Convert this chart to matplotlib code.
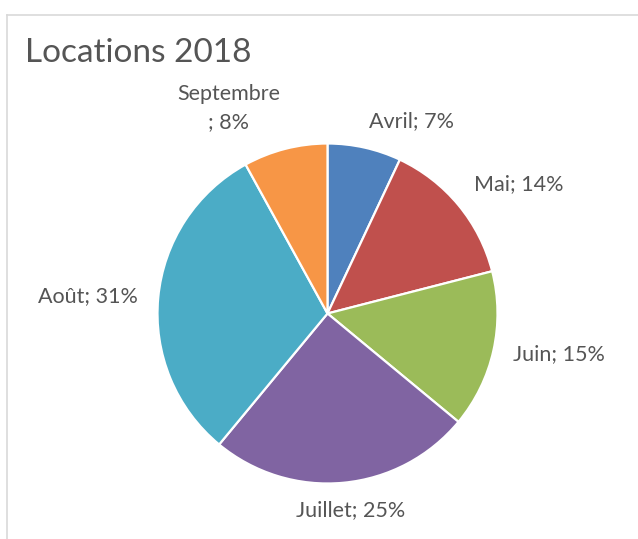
import numpy as np
import matplotlib
matplotlib.use("Agg")
import matplotlib.pyplot as plt
from matplotlib.lines import Line2D

months = ["Avril", "Mai", "Juin", "Juillet", "Août", "Septembre"]
shares = [7, 14, 15, 25, 31, 8]
colors = ["#4F81BD", "#C0504D", "#9BBB59", "#8064A2", "#4BACC6", "#F79646"]
title = "Locations 2018"

W, H = 638, 539
text_grey = "#555555"

plt.rcParams["font.family"] = ["Lato", "DejaVu Sans"]

fig = plt.figure(figsize=(W / 100, H / 100), dpi=100)

# pie centre / radius in pixels
cx, cy, r = 327.5, 313.5, 170
ax = fig.add_axes([(cx - r) / W, (H - cy - r) / H, 2 * r / W, 2 * r / H])

wedges, _ = ax.pie(shares, colors=colors, startangle=90, counterclock=False,
                   radius=1, wedgeprops=dict(edgecolor="white", linewidth=1.6))
ax.set_xlim(-1, 1)
ax.set_ylim(-1, 1)
ax.set_aspect("equal")
ax.axis("off")

# data labels outside the wedges, Excel style
for w, m, v in zip(wedges, months, shares):
    ang = np.deg2rad((w.theta1 + w.theta2) / 2)
    c, s = np.cos(ang), np.sin(ang)
    ha = "left" if c > 0.15 else ("right" if c < -0.15 else "center")
    va = "bottom" if s > 0.3 else ("top" if s < -0.3 else "center")
    txt = f"{m}\n; {v}%" if len(m) > 8 else f"{m}; {v}%"
    dx = 0.03 if ha == "center" else 0.0
    ax.text(1.12 * c + dx, 1.1 * s, txt, ha=ha, va=va, ma="center", fontsize=15.5,
            color=text_grey, linespacing=1.55, clip_on=False)

fig.text(25 / W, 1 - 53 / H, title, ha="left", va="center", fontsize=24, color=text_grey)

# chart area border (only top and left visible)
fig.add_artist(Line2D([7 / W, 1.0], [1 - 15 / H, 1 - 15 / H], color="#d9d9d9", lw=1.2))
fig.add_artist(Line2D([7 / W, 7 / W], [1 - 15 / H, 0.0], color="#d9d9d9", lw=1.2))

fig.savefig("out.png", dpi=100, facecolor="white")
